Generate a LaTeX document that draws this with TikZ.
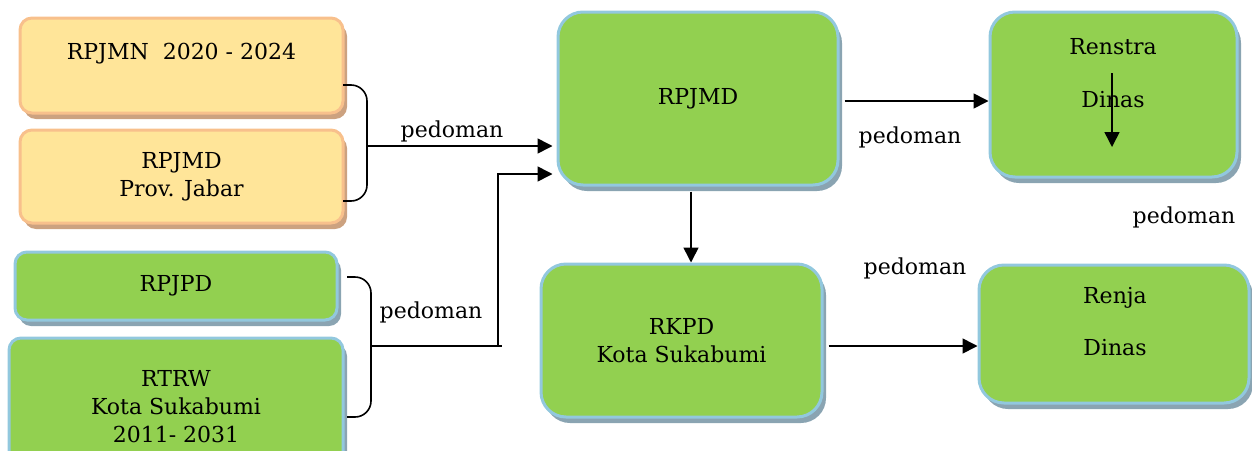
\documentclass[tikz,border=0pt]{standalone}
\usepackage{fontspec}
\setmainfont{DejaVu Serif}
\usetikzlibrary{arrows.meta,shadows}

\definecolor{greenfill}{RGB}{146,208,80}
\definecolor{blueedge}{RGB}{146,200,222}
\definecolor{blueshadow}{RGB}{138,164,178}
\definecolor{yellowfill}{RGB}{255,229,153}
\definecolor{orangeedge}{RGB}{248,192,140}
\definecolor{tanshadow}{RGB}{204,162,128}

\begin{document}
\begin{tikzpicture}[x=1pt,y=-1pt,
  font=\fontsize{22}{28}\selectfont,
  boxsize/.style 2 args={minimum width=#1pt, minimum height=#2pt},
  box/.style={rounded corners=12pt, line width=3pt, align=center, inner sep=0pt},
  greenbox/.style={box, fill=greenfill, draw=blueedge,
    drop shadow={shadow xshift=4pt, shadow yshift=-6pt, fill=blueshadow, opacity=1}},
  yellowbox/.style={box, fill=yellowfill, draw=orangeedge,
    drop shadow={shadow xshift=4pt, shadow yshift=-6pt, fill=tanshadow, opacity=1}},
  link/.style={line width=1.6pt},
  arr/.style={line width=1.6pt, -{Triangle[length=15pt,width=15pt]}},
  brace/.style={line width=1.6pt, rounded corners=16pt},
  txt/.style={inner sep=0pt, align=center},
]
\useasboundingbox (0,0) rectangle (1252,450);
\clip (0,0) rectangle (1252,450);

% source documents on the left
\node[yellowbox, boxsize={323}{95}] (rpjmn) at (181.5,65.5) {RPJMN\ \ 2020 - 2024\\ \mbox{}};
\node[yellowbox, boxsize={323}{93}] (jabar) at (181.5,176.5) {RPJMD\\Prov. Jabar};
\node[greenbox, boxsize={322}{68}] (rpjpd) at (176,286) {RPJPD};
\node[greenbox, boxsize={334}{137}] (rtrw) at (176,406.5) {RTRW\\Kota Sukabumi\\2011- 2031};

% central plans
\node[greenbox, rounded corners=25pt, boxsize={280}{173}] (rpjmd) at (698,98.5) {RPJMD};
\node[greenbox, rounded corners=25pt, boxsize={281}{153}] (rkpd) at (681.5,340.5) {RKPD\\Kota Sukabumi};

% agency plans on the right
\node[greenbox, rounded corners=25pt, boxsize={247}{165}] (renstra) at (1113.5,94.5) {};
\node[txt] (renstraA) at (1113,47) {Renstra};
\node[txt] (renstraB) at (1113,100) {Dinas};
\node[greenbox, rounded corners=25pt, boxsize={270}{138}] (renja) at (1114,334) {};
\node[txt] (renjaA) at (1115,298) {Renja};
\node[txt] (renjaB) at (1115,348) {Dinas};

% upper brace: national and provincial plans
\coordinate (b1t) at (343,85);
\coordinate (b1b) at (343,201);
\coordinate (b1m) at (367,146);
\draw[brace] (b1t) -- (367,85) -- (367,201) -- (b1b);
\draw[arr, shorten >=4pt] (b1m) -- (rpjmd.west |- b1m);

% lower brace: long-term and spatial plans
\coordinate (b2t) at (347,277);
\coordinate (b2b) at (347,417);
\coordinate (b2m) at (371,346);
\coordinate (b2e) at (502,346);
\coordinate (b2c) at (498,346);
\coordinate (b2u) at (498,174);
\draw[brace] (b2t) -- (371,277) -- (371,417) -- (b2b);
\draw[link] (b2m) -- (b2e);
\draw[arr, shorten >=4pt] (b2c) -- (b2u) -- (rpjmd.west |- b2u);

% links between plans
\draw[arr, shorten <=5pt] ([yshift=-2.5pt]rpjmd.east) -- ([yshift=-6.5pt]renstra.west);
\draw[arr, shorten <=5pt] ([xshift=-7pt]rpjmd.south) -- ([xshift=-7pt]rpjmd.south |- rkpd.north);
\draw[arr, shorten <=5pt] ([yshift=-5.5pt]rkpd.east) -- ([yshift=-5.5pt]rkpd.east -| renja.west);
\draw[arr] ([xshift=-1.5pt,yshift=21.5pt]renstra.center) -- ([xshift=-1.5pt,yshift=-52.5pt]renstra.center);

% labels
\node[txt] (l1) at (452,131) {pedoman};
\node[txt] (l2) at (431,312) {pedoman};
\node[txt] (l3) at (910,137) {pedoman};
\node[txt] (l4) at (915,268) {pedoman};
\node[txt] (l5) at (1184,217) {pedoman};
\end{tikzpicture}
\end{document}
